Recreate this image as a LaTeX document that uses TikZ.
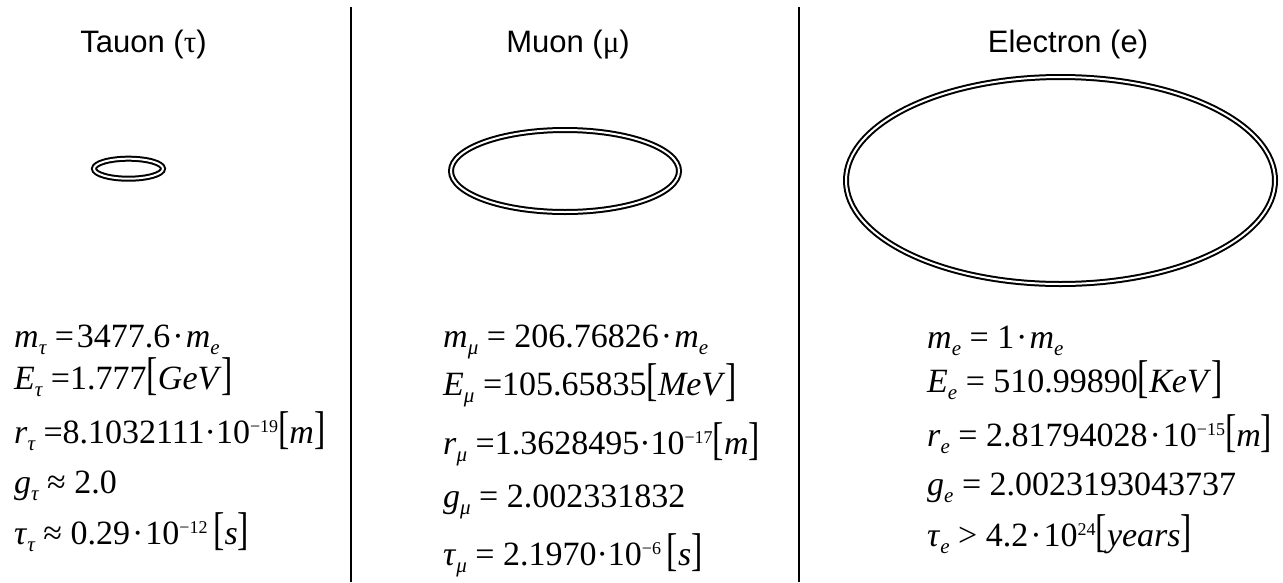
\documentclass[tikz,border=0pt]{standalone}
\usepackage{fontspec}
\setmainfont{Liberation Serif}
\newfontfamily\headfont{Liberation Sans}
\newcommand\lsub[1]{\raisebox{-7.5pt}{\fontsize{21}{21}\selectfont\itshape #1}}
\newcommand\lsup[1]{\raisebox{11pt}{\fontsize{18}{18}\selectfont #1}}
\newcommand\lbrk[1]{\scalebox{1}[1.35]{[}\textit{#1}\scalebox{1}[1.35]{]}}
\newcommand\ldot{\hspace{2pt}·\hspace{2pt}}

\begin{document}
\begin{tikzpicture}[x=1pt,y=-1pt,
  head/.style={font=\headfont\fontsize{31}{36}\selectfont,anchor=base,inner sep=0pt},
  eqn/.style={font=\fontsize{34}{40}\selectfont,anchor=base west,inner sep=0pt},
  ring/.style={draw,line width=2pt,double,double distance=2pt},
  divider/.style={line width=2pt}]
  \useasboundingbox (0,0) rectangle (1283,582);
  \draw[divider] (351,7) -- (351,582);
  \draw[divider] (799,7) -- (799,582);
  \node[head] (tauHead) at (143.5,52) {Tauon ({\rmfamily τ})};
  \node[head] (muHead) at (568,52) {Muon ({\rmfamily μ})};
  \node[head] (elHead) at (1068,52) {Electron (e)};
  \draw[ring] (128.5,168.7) ellipse [x radius=34.5pt,y radius=10pt];
  \draw[ring] (565,171) ellipse [x radius=114pt,y radius=41pt];
  \draw[ring] (1060.5,180.5) ellipse [x radius=214.5pt,y radius=103.5pt];
  \node[eqn] (tauM) at (14,347) {\textit{m}\lsub{τ} =\hspace{3pt}3477.6\ldot\textit{m}\lsub{e}};
  \node[eqn] (tauE) at (14,389) {\textit{E}\lsub{τ} =1.777\lbrk{GeV}};
  \node[eqn] (tauR) at (14,443) {\textit{r}\lsub{τ} =8.1032111·10\lsup{−19}\lbrk{m}};
  \node[eqn] (tauG) at (14,493) {\textit{g}\lsub{τ} ≈ 2.0};
  \node[eqn] (tauT) at (14,544) {\textit{τ}\lsub{τ} ≈ 0.29\ldot 10\lsup{−12}\,\lbrk{s}};
  \node[eqn] (muM) at (443,347) {\textit{m}\lsub{μ} = 206.76826\ldot\textit{m}\lsub{e}};
  \node[eqn] (muE) at (443,395) {\textit{E}\lsub{μ} =105.65835\lbrk{MeV}};
  \node[eqn] (muR) at (443,454) {\textit{r}\lsub{μ} =1.3628495·10\lsup{−17}\lbrk{m}};
  \node[eqn] (muG) at (443,507) {\textit{g}\lsub{μ} = 2.002331832};
  \node[eqn] (muT) at (443,565) {\textit{τ}\lsub{μ} = 2.1970·10\lsup{−6}\,\lbrk{s}};
  \node[eqn] (elM) at (927,348) {\textit{m}\lsub{e} = 1\ldot\textit{m}\lsub{e}};
  \node[eqn] (elE) at (927,392) {\textit{E}\lsub{e} = 510.99890\lbrk{KeV}};
  \node[eqn] (elR) at (927,446) {\textit{r}\lsub{e} = 2.81794028\ldot 10\lsup{−15}\lbrk{m}};
  \node[eqn] (elG) at (927,495) {\textit{g}\lsub{e} = 2.0023193043737};
  \node[eqn] (elT) at (927,546) {\textit{τ}\lsub{e} > 4.2\ldot 10\lsup{24}\lbrk{years}};
\end{tikzpicture}
\end{document}
